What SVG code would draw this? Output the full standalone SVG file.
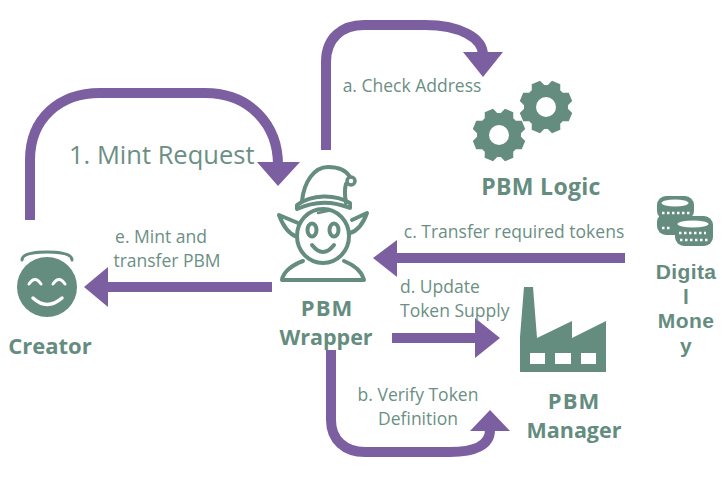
<svg xmlns="http://www.w3.org/2000/svg" width="722" height="493" viewBox="0 0 722 493">
<style>
.flow{fill:none;stroke:#7c5fa1;stroke-width:10}
.head{fill:#7c5fa1}
.icon{fill:#648c7f}
.line{fill:none;stroke:#648c7f;stroke-width:4;stroke-linecap:round;stroke-linejoin:round}
.dots{fill:none;stroke:#fff;stroke-width:2.5;stroke-dasharray:2.5 2.5}
.lbl{font-family:"Open Sans",sans-serif;font-size:17.5px;fill:#6b8f84;text-anchor:middle}
.big{font-family:"Open Sans",sans-serif;font-size:25.5px;fill:#6b8f84}
.name{font-family:"Open Sans",sans-serif;font-size:23px;font-weight:700;fill:#648c7f;text-anchor:middle}
</style>
<defs>
<path id="tooth" d="M-7.5-19L-4.5-26.5H4.5L7.5-19Z"/>
<g id="gear">
<circle r="22"/>
<use href="#tooth" transform="rotate(22.5)"/>
<use href="#tooth" transform="rotate(67.5)"/>
<use href="#tooth" transform="rotate(112.5)"/>
<use href="#tooth" transform="rotate(157.5)"/>
<use href="#tooth" transform="rotate(202.5)"/>
<use href="#tooth" transform="rotate(247.5)"/>
<use href="#tooth" transform="rotate(292.5)"/>
<use href="#tooth" transform="rotate(337.5)"/>
</g>
</defs>
<rect width="722" height="493" fill="#fff"/>
<g id="connectors">
<path class="flow" d="M30 220V160C30 118 60 93 100 93H205C250 93 278 125 278 165"/>
<polygon class="head" points="257,162 300,162 278,186"/>
<path class="flow" d="M326 150V62C326 38 342 25 364 25H425C460 25 483 38 483 55"/>
<polygon class="head" points="463,52 503,52 483,77"/>
<path class="flow" d="M625 258H395"/>
<polygon class="head" points="397,240 397,277 373,258"/>
<path class="flow" d="M272 287H106"/>
<polygon class="head" points="108,267 108,307 84,287"/>
<path class="flow" d="M392 338H478"/>
<polygon class="head" points="475,318 475,358 500,338"/>
<path class="flow" d="M331 350V420C331 440 345 452 365 452H450C475 452 490 445 490 430"/>
<polygon class="head" points="470,431 510,431 490,410"/>
</g>
<g id="creator">
<path class="line" style="stroke-width:3" d="M22 260Q22 252 47 252Q72 252 72 260"/>
<circle class="icon" cx="47" cy="287" r="30"/>
<path d="M29 284Q35 275 41 284M53 284Q59 275 65 284" fill="none" stroke="#fff" stroke-width="3" stroke-linecap="round"/>
<path d="M33 298Q47 311 62 298" fill="none" stroke="#fff" stroke-width="3.5" stroke-linecap="round"/>
<text class="name" style="font-size:22px" x="50" y="354">Creator</text>
</g>
<g id="pbm-wrapper">
<path class="line" d="M302 201C304 182 314 167 328 167C338 167 346 170 350 177M346 184C344 190 345 197 346 203"/>
<path class="line" d="M297 205C312 194 335 194 350 203V208C333 201 314 201 297 209Z"/>
<circle class="line" style="stroke-width:3.5" cx="351" cy="181" r="4"/>
<ellipse class="line" cx="323" cy="236" rx="26" ry="27"/>
<path class="line" d="M298 223L279 215C283 226 289 234 297 237M352 220L367 213C363 224 357 231 350 233"/>
<ellipse class="line" cx="312" cy="230" rx="4.5" ry="6.5"/>
<ellipse class="line" cx="334" cy="230" rx="4.5" ry="6.5"/>
<path class="line" d="M312 245Q323 259 334 245"/>
<path class="line" d="M303 261C292 265 283 272 282 280H364C362 272 354 265 344 261"/>
<path class="line" style="stroke-width:2.5" d="M318 213L332 210"/>
<text class="name" style="letter-spacing:1px;font-size:22px" x="327" y="316">PBM</text>
<text class="name" style="font-size:21.5px" x="326" y="345">Wrapper</text>
</g>
<g id="pbm-logic">
<use href="#gear" class="icon" transform="translate(499 135)"/>
<circle cx="499" cy="135" r="10" fill="#fff"/>
<use href="#gear" class="icon" transform="translate(546 107)"/>
<circle cx="546" cy="107" r="10" fill="#fff"/>
<text class="name" style="letter-spacing:.3px" x="541" y="195">PBM Logic</text>
</g>
<g id="digital-money">
<rect class="icon" x="657" y="196" width="37" height="24" rx="9"/>
<rect class="icon" x="657" y="213" width="33" height="22" rx="9"/>
<rect class="icon" x="675" y="216" width="38" height="30" rx="9"/>
<ellipse cx="675" cy="203" rx="13.5" ry="3.5" fill="#fff"/>
<ellipse cx="693" cy="224" rx="15.5" ry="3.5" fill="#fff"/>
<path class="dots" d="M662 213H690M662 228H672M679 233H706M680 240H708"/>
<text class="name" style="font-family:'Liberation Sans',sans-serif;font-size:21px;letter-spacing:.4px" x="686" y="279">Digita</text>
<text class="name" style="font-family:'Liberation Sans',sans-serif;font-size:21px;letter-spacing:.4px" x="686" y="303.5">l</text>
<text class="name" style="font-family:'Liberation Sans',sans-serif;font-size:21px;letter-spacing:.4px" x="686" y="328">Mone</text>
<text class="name" style="font-family:'Liberation Sans',sans-serif;font-size:21px;letter-spacing:.4px" x="686" y="352.5">y</text>
</g>
<g id="pbm-manager">
<path class="icon" d="M520 372V337L524 287H533L537 338L572 321V338L606 321V372Z"/>
<path d="M530 353H545V364H530ZM555 353H571V364H555ZM581 353H596V364H581Z" fill="#fff"/>
<text class="name" style="letter-spacing:1px;font-size:22px" x="574" y="409">PBM</text>
<text class="name" style="font-size:21.5px" x="574" y="438">Manager</text>
</g>
<g id="labels">
<text class="big" x="69" y="164">1. Mint Request</text>
<text class="lbl" x="412" y="92">a. Check Address</text>
<text class="lbl" x="514" y="238">c. Transfer required tokens</text>
<text class="lbl" x="161" y="242.5">e. Mint and</text>
<text class="lbl" x="167" y="266.5">transfer PBM</text>
<text class="lbl" style="text-anchor:start" x="400" y="292.5">d. Update</text>
<text class="lbl" style="text-anchor:start" x="400" y="316.5">Token Supply</text>
<text class="lbl" x="418" y="400.5">b. Verify Token</text>
<text class="lbl" x="418" y="424.5">Definition</text>
</g>
</svg>
